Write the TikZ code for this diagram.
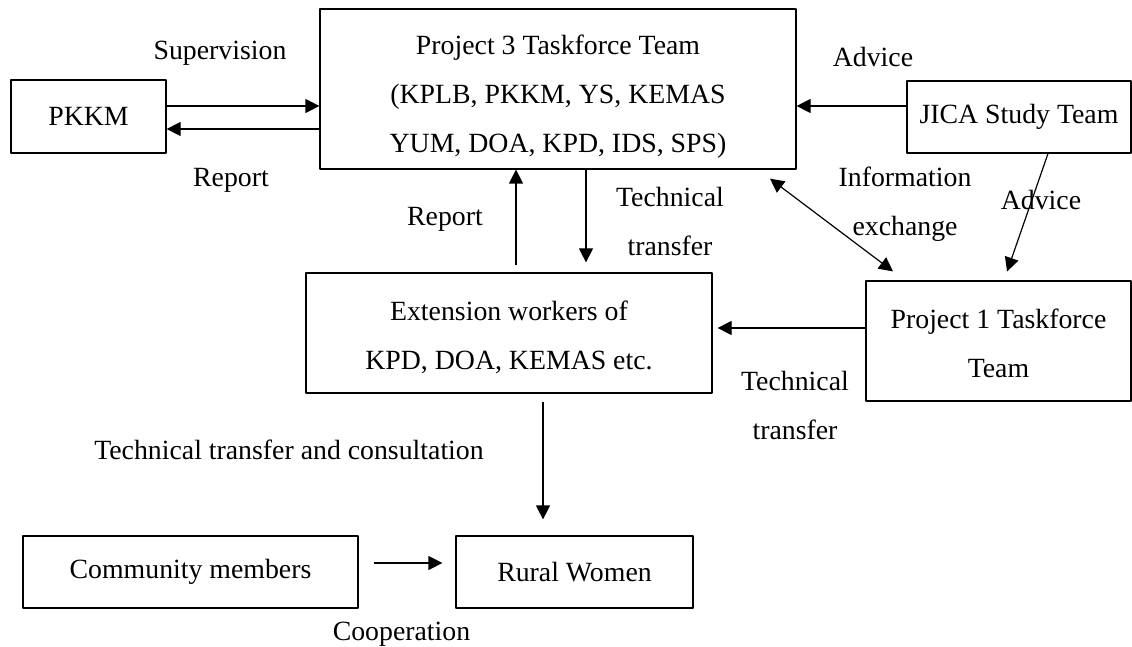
\documentclass[tikz,border=0pt]{standalone}
\usepackage{fontspec}
\setmainfont{Liberation Serif}
\usetikzlibrary{arrows.meta,positioning}

\begin{document}
\begin{tikzpicture}[x=0.5pt,y=-0.5pt, line join=round,
  every node/.style={font=\fontsize{13.9pt}{24.5pt}\selectfont, align=center, inner sep=0pt},
  box/.style={draw, line width=0.6pt},
  arr/.style={line width=0.6pt, -{Triangle[length=7pt,width=7pt]}},
  lbl/.style={anchor=base}]
\useasboundingbox (0,0) rectangle (1132,647);
% boxes
\node[box, minimum width=77.5pt, minimum height=36.5pt] (pkkm)  at (88.5,116.5) {PKKM};
\node[box, minimum width=238pt,  minimum height=80pt]   (p3)    at (558,89) {\rule{0pt}{17pt}Project 3 Taskforce Team\\(KPLB, PKKM, YS, KEMAS\\YUM, DOA, KPD, IDS, SPS)};
\node[box, minimum width=112pt,  minimum height=36pt]   (jica)  at (1019,117) {JICA Study Team};
\node[box, minimum width=203pt,  minimum height=60pt]   (ext)   at (509,333) {\rule{0pt}{14pt}Extension workers of\\KPD, DOA, KEMAS etc.};
\node[box, minimum width=132.5pt,minimum height=60pt]   (p1)    at (998.5,341) {\rule{0pt}{12pt}Project 1 Taskforce\\Team};
\node[box, minimum width=167.5pt,minimum height=36pt]   (comm)  at (190.5,572) {Community members};
\node[box, minimum width=118.5pt,minimum height=36pt]   (rural) at (574.5,572) {Rural Women};
% connectors
\draw[arr] (pkkm.east |- 0,106) -- (p3.west |- 0,106);
\draw[arr] (p3.west |- 0,129) -- (pkkm.east |- 0,129);
\draw[arr] (jica.west |- 0,106) -- (p3.east |- 0,106);
\draw[arr, shorten >=4.7pt] (jica.south -| 1048,0) -- (p1.north -| 1004,0);
\draw[line width=0.6pt, {Triangle[length=7pt,width=7pt]}-{Triangle[length=7pt,width=7pt]}, shorten <=7.5pt, shorten >=7.5pt] (p3.south -| 758,0) -- (p1.north -| 905,0);
\draw[arr, shorten <=3.5pt] (ext.north -| 516,0) -- (p3.south -| 516,0);
\draw[arr, shorten >=5pt] (p3.south -| 586,0) -- (ext.north -| 586,0);
\draw[arr, shorten >=2.5pt] (p1.west |- 0,328) -- (ext.east |- 0,328);
\draw[arr, shorten <=4pt, shorten >=8pt] (ext.south -| 543,0) -- (rural.north -| 543,0);
\draw[arr, shorten <=7.5pt, shorten >=6.5pt] (comm.east |- 0,563) -- (rural.west |- 0,563);
% labels
\node[lbl] (sup)  at (220,60)  {Supervision};
\node[lbl] (rep1) at (231,187) {Report};
\node[lbl] (adv1) at (873,67)  {Advice};
\node[lbl] (adv2) at (1041,210) {Advice};
\node[lbl] (rep2) at (445,226) {Report};
\node (tt1) at (670,221) {Technical\\transfer};
\node (inf) at (905,204) {Information\\exchange};
\node (tt2) at (795,405) {Technical\\transfer};
\node[lbl] (ttc)  at (289,459) {Technical transfer and consultation};
\node[lbl] (coop) at (401.5,640) {Cooperation};
\end{tikzpicture}
\end{document}
